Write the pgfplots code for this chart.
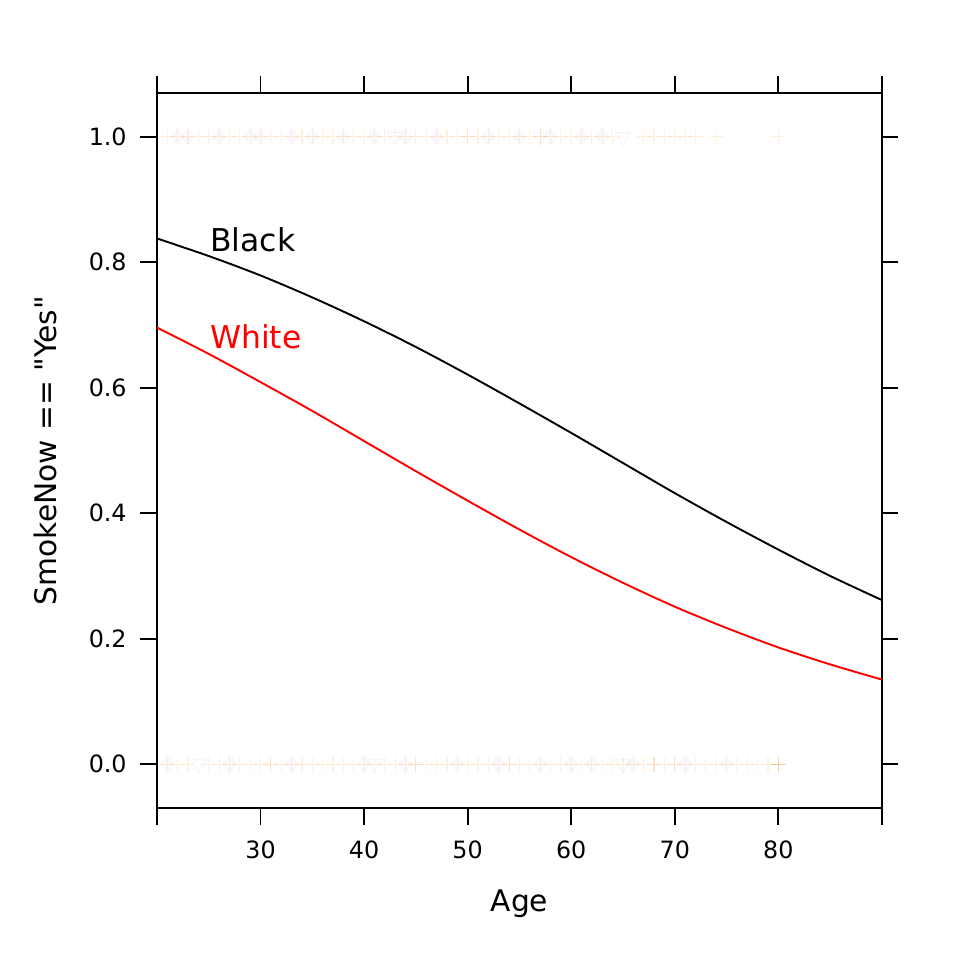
\documentclass[border=0pt]{standalone}
\usepackage{pgfplots}
\pgfplotsset{compat=1.18}
\usepackage{fontspec}
\setmainfont{DejaVu Sans}[Ligatures=TeXOff]
\begin{document}
\begin{tikzpicture}
\path[use as bounding box] (0,0) rectangle (504bp,504bp);
\begin{axis}[
  scale only axis, width=380.6bp, height=375.4bp,
  at={(82.4bp,79.8bp)}, anchor=south west,
  xmin=20, xmax=90, ymin=-0.07, ymax=1.07,
  xtick={20,30,...,90}, xticklabels={,30,40,50,60,70,80,},
  ytick={0,0.2,0.4,0.6,0.8,1.0}, yticklabels={0.0,0.2,0.4,0.6,0.8,1.0},
  xtick pos=both, xticklabel pos=lower,
  ytick pos=both, yticklabel pos=left,
  tick align=outside, major tick length=8.7bp,
  tick style={black, line width=1bp},
  axis line style={line width=1bp},
  /pgf/number format/assume math mode=true,
  ticklabel style={font=\fontsize{12.5bp}{14bp}\selectfont},
  xticklabel style={yshift=-5bp},
  yticklabel style={xshift=-3.7bp},
  xlabel={Age}, ylabel={SmokeNow == "Yes"},
  every axis x label/.style={at={(axis description cs:0.5,-0.1449)}, anchor=base, font=\fontsize{15.6bp}{18bp}\selectfont},
  every axis y label/.style={at={(axis description cs:-0.1382,0.5)}, rotate=90, anchor=base, font=\fontsize{15.6bp}{18bp}\selectfont},
  clip=false,
]
% rug: faint orange crosses
\addplot[only marks, mark=+, mark size=3.9bp, draw=orange, line width=0.6bp, opacity=0.12] coordinates {
(21,1)(22,1)(23,1)(24,1)(25,1)(26,1)(27,1)(28,1)(29,1)(30,1)(31,1)(32,1)(33,1)(34,1)(35,1)(36,1)(37,1)(38,1)(39,1)(40,1)
(41,1)(42,1)(43,1)(44,1)(45,1)(46,1)(47,1)(48,1)(49,1)(50,1)(50,1)(51,1)(52,1)(53,1)(54,1)(55,1)(56,1)(57,1)(57,1)(58,1)(59,1)(60,1)
(61,1)(62,1)(63,1)(64,1)(67,1)(68,1)(69,1)(70,1)(71,1)(72,1)(74,1)(80,1)
(21,0)(22,0)(23,0)(25,0)(26,0)(27,0)(28,0)(29,0)(30,0)(31,0)(31,0)(32,0)(33,0)(34,0)(35,0)(36,0)(37,0)(38,0)(39,0)(40,0)
(41,0)(42,0)(43,0)(44,0)(45,0)(45,0)(46,0)(47,0)(48,0)(49,0)(50,0)(51,0)(52,0)(53,0)(54,0)(54,0)(55,0)(56,0)(57,0)(58,0)(59,0)(60,0)
(61,0)(62,0)(63,0)(64,0)(65,0)(66,0)(67,0)(68,0)(68,0)(69,0)(70,0)(70,0)(71,0)(72,0)(73,0)(74,0)(75,0)(76,0)(77,0)(78,0)(79,0)(80,0)(80,0)(80,0)(80,0)
};
% rug: faint lavender diamonds and triangles
\addplot[only marks, mark=diamond*, mark size=4.5bp, draw=none, fill=blue!50!red, opacity=0.025] coordinates {
(22,1)(23,1)(26,1)(29,1)(30,1)(33,1)(35,1)(38,1)(41,1)(44,1)(47,1)(52,1)(55,1)(58,1)(61,1)(63,1)
(21,0)(27,0)(33,0)(40,0)(44,0)(49,0)(53,0)(57,0)(60,0)(62,0)(66,0)(71,0)(75,0)
};
\addplot[only marks, mark=triangle, mark options={rotate=180}, mark size=4.5bp, draw=blue!50!red, opacity=0.06] coordinates {
(43,1)(57,1)(65,1)(24,0)(65,0)(41,0)
};
% fitted curves
\addplot[black, line width=1bp, smooth] coordinates {
(20,0.838)(25,0.810)(30,0.779)(35,0.744)(40,0.706)(45,0.665)(50,0.621)(55,0.575)
(60,0.528)(65,0.480)(70,0.432)(75,0.386)(80,0.342)(85,0.300)(90,0.2615)
};
\addplot[red, line width=1bp, smooth] coordinates {
(20,0.696)(25,0.654)(30,0.609)(35,0.563)(40,0.515)(45,0.467)(50,0.420)(55,0.374)
(60,0.330)(65,0.289)(70,0.251)(75,0.217)(80,0.186)(85,0.159)(90,0.1347)
};
\node[anchor=base west, inner sep=0pt, font=\fontsize{16.5bp}{19bp}\selectfont] at (axis cs:25.1,0.817) {Black};
\node[anchor=base west, inner sep=0pt, text=red, font=\fontsize{16.5bp}{19bp}\selectfont] at (axis cs:25.1,0.662) {White};
\end{axis}
\end{tikzpicture}
\end{document}
